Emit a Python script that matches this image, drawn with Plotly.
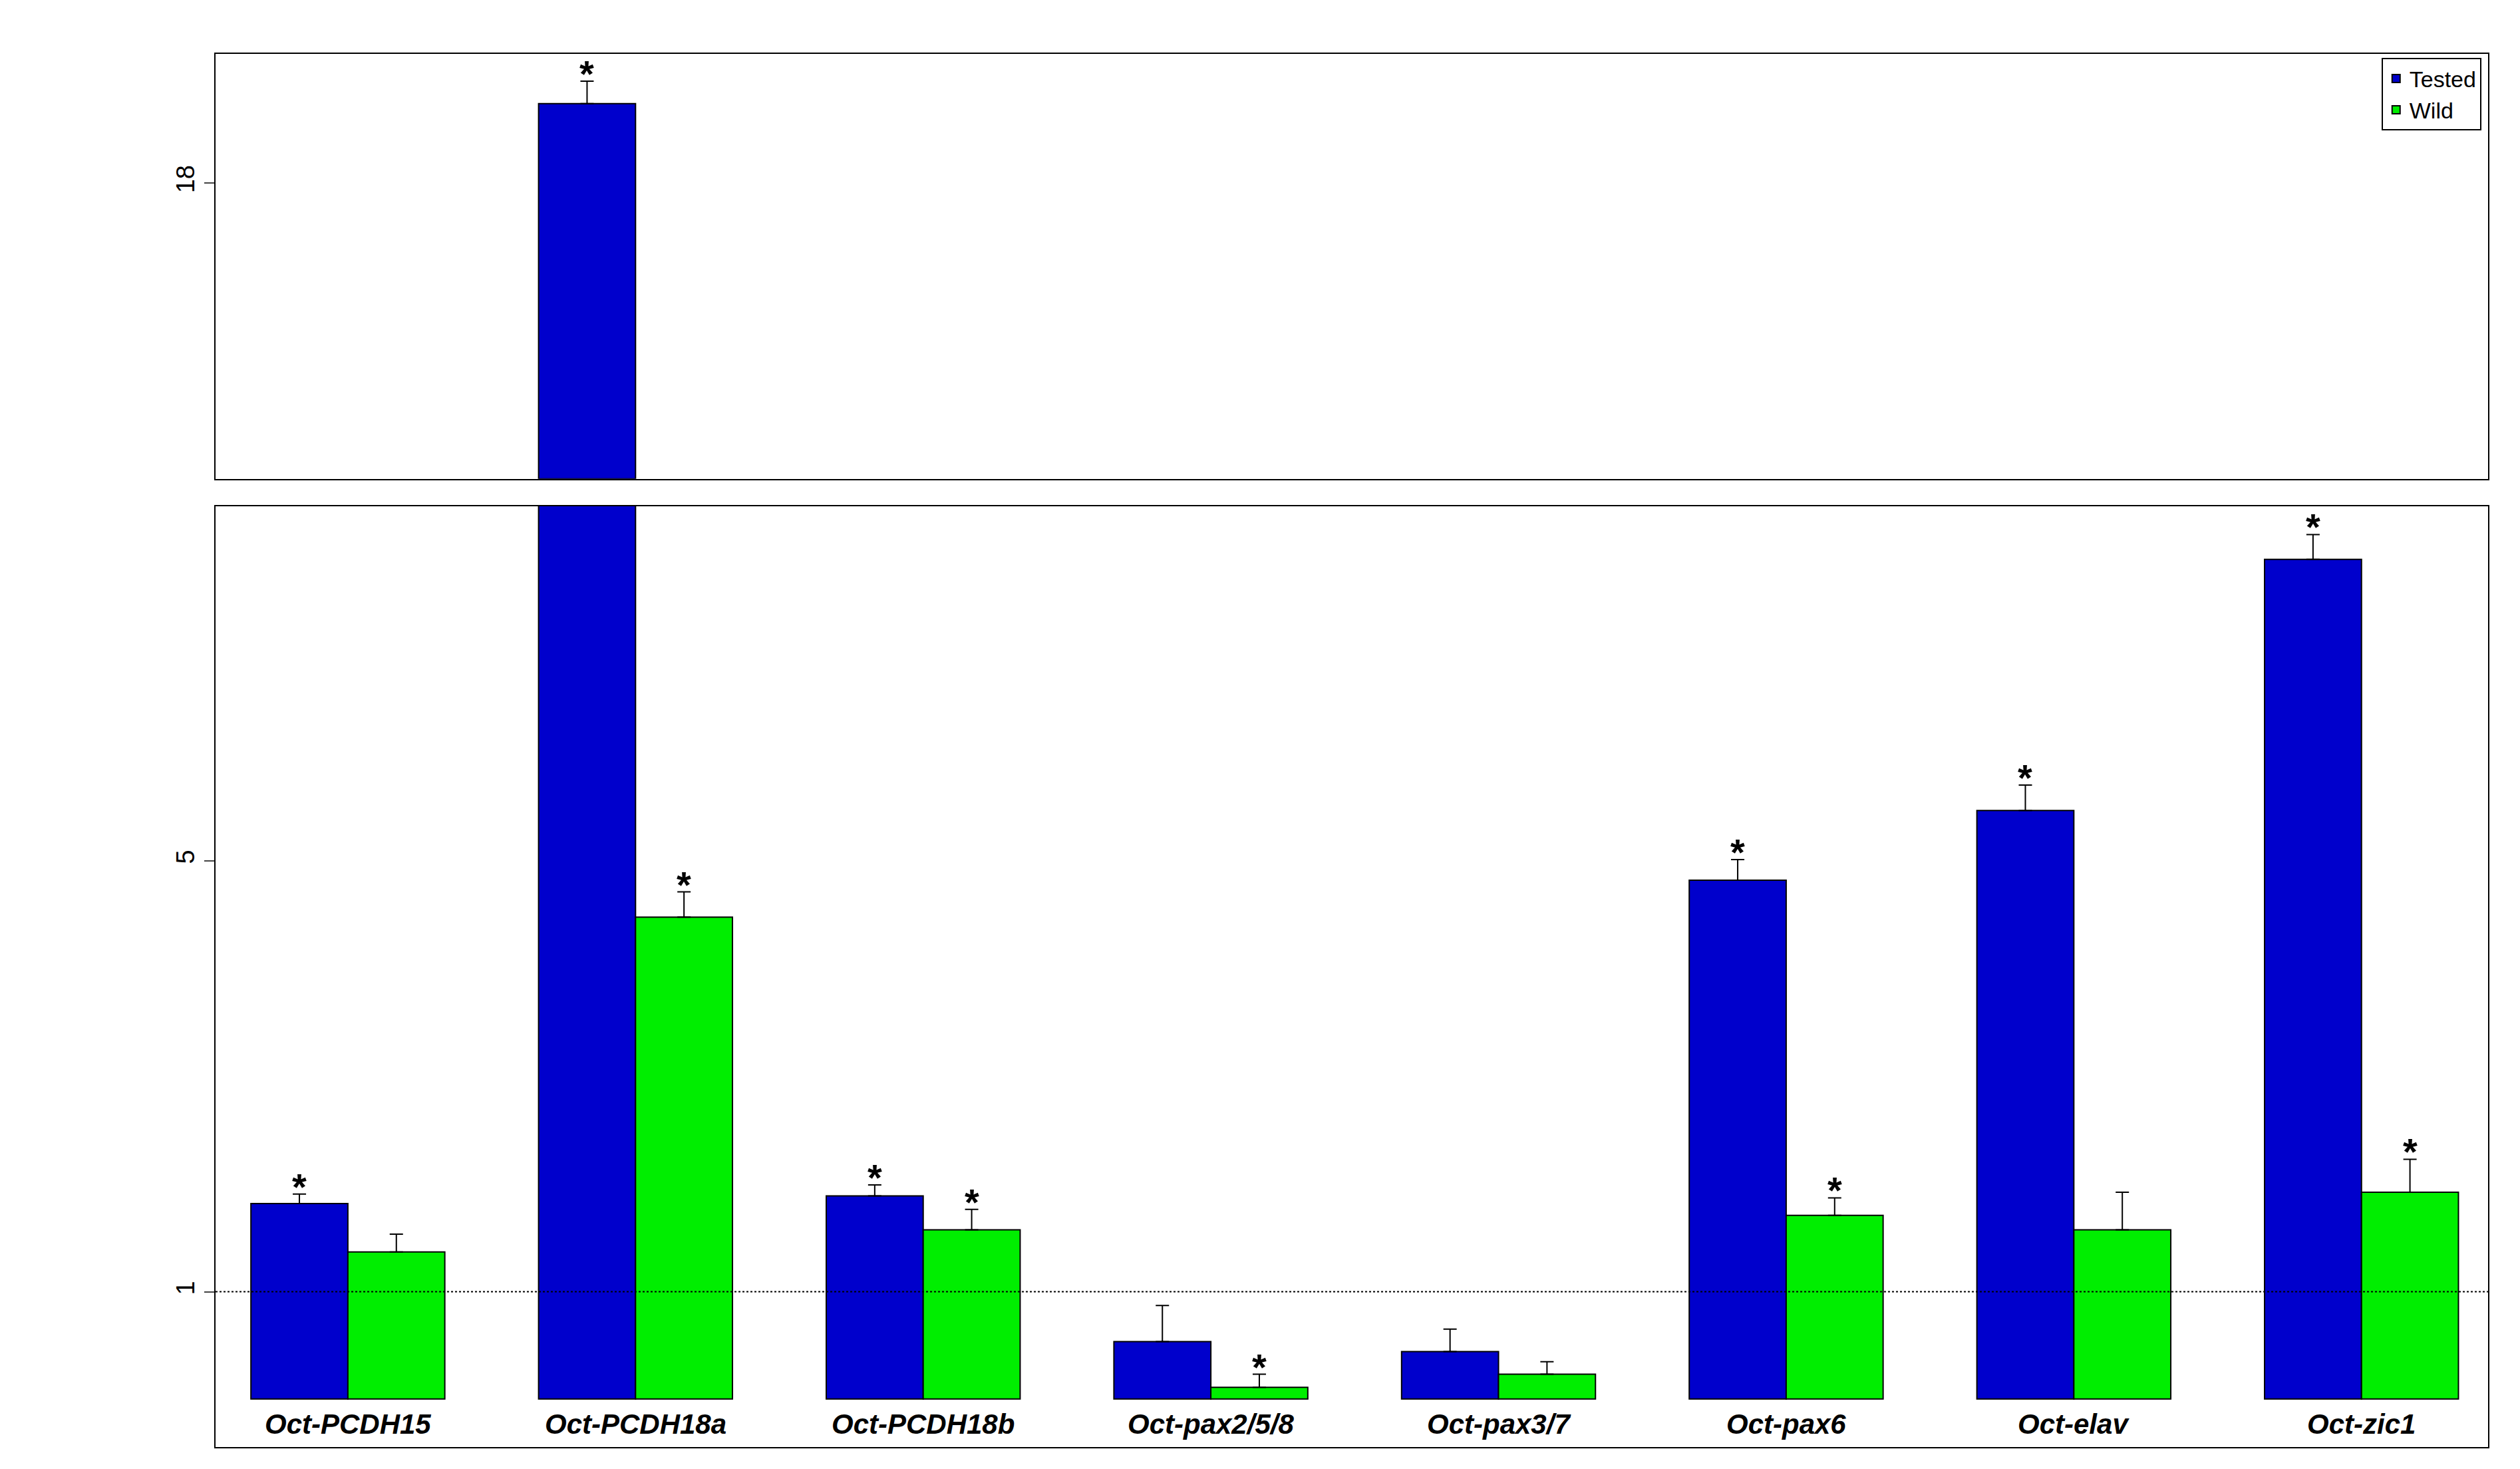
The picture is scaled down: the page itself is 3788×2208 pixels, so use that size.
import plotly.graph_objects as go
import math

genes = ["Oct-PCDH15","Oct-PCDH18a","Oct-PCDH18b","Oct-pax2/5/8","Oct-pax3/7","Oct-pax6","Oct-elav","Oct-zic1"]
tested = [1.39, 24.0, 1.43, 0.83, 0.80, 4.65, 6.03, 15.4]
tested_err = [0.05, 2.3, 0.06, 0.12, 0.07, 0.37, 0.6, 1.5]
wild = [1.16, 4.05, 1.26, 0.70, 0.735, 1.33, 1.26, 1.45]
wild_err = [0.08, 0.4, 0.10, 0.035, 0.035, 0.09, 0.19, 0.19]
# upper (broken) panel, linear scale: only Oct-PCDH18a reaches it
top_tested = [None, 18.67, None, None, None, None, None, None]
top_err = [0, 0.19, 0, 0, 0, 0, 0, 0]
tested_sig = [1,1,1,0,0,1,1,1]
wild_sig = [0,1,1,1,0,1,0,1]

BLUE = "#0000CC"; GREEN = "#00EE00"
base = 0.67
TOPBASE = 15.5
x = list(range(len(genes)))
fig = go.Figure()
errstyle = dict(type="data", symmetric=False, color="black", thickness=2, width=10)
fig.add_bar(x=x, y=[v-base for v in tested], base=base, name="Tested", marker=dict(color=BLUE, line=dict(color="black", width=2)),
            error_y=dict(array=tested_err, arrayminus=[0]*8, **errstyle), offsetgroup="t")
fig.add_bar(x=x, y=[v-base for v in wild], base=base, name="Wild", marker=dict(color=GREEN, line=dict(color="black", width=2)),
            error_y=dict(array=wild_err, arrayminus=[0]*8, **errstyle), offsetgroup="w")
fig.add_bar(x=x, y=[None if v is None else v-TOPBASE for v in top_tested], base=TOPBASE, marker=dict(color=BLUE, line=dict(color="black", width=2)),
            error_y=dict(array=top_err, arrayminus=[0]*8, **errstyle), xaxis="x2", yaxis="y2", showlegend=False, offsetgroup="t")
fig.add_bar(x=x, y=[None]*8, marker=dict(color=GREEN), xaxis="x2", yaxis="y2", showlegend=False, offsetgroup="w")

lo, hi = math.log10(0.56), math.log10(18.8)
xr = [-0.46, 7.44]
ax = dict(showline=True, mirror=True, linecolor="black", linewidth=2, showgrid=False, zeroline=False)
fig.update_layout(
    width=3788, height=2208, plot_bgcolor="white", paper_bgcolor="white",
    margin=dict(l=316, r=56, t=73, b=41), barmode="group", bargap=0.326, bargroupgap=0,
    font=dict(family="Liberation Sans", size=38, color="black"),
    xaxis=dict(domain=[0,1], range=xr, showticklabels=False, ticks="", anchor="y", **ax),
    xaxis2=dict(domain=[0,1], range=xr, showticklabels=False, ticks="", anchor="y2", **ax),
    yaxis=dict(domain=[0, 0.6755], type="log", range=[lo, hi], tickvals=[1, 5], ticktext=["1","5"], ticks="outside", ticklen=15, tickwidth=2, tickangle=-90, **ax),
    yaxis2=dict(domain=[0.695, 1], range=[TOPBASE, 19.09], tickvals=[18], ticktext=["18"], ticks="outside", ticklen=15, tickwidth=2, tickangle=-90, **ax),
    legend=dict(x=0.997, y=0.997, xanchor="right", yanchor="top", bordercolor="black", borderwidth=2, font=dict(size=34), tracegroupgap=0, itemwidth=30),
)
fig.add_shape(type="line", xref="x domain", yref="y", x0=0, x1=1, y0=1, y1=1, line=dict(color="black", width=2, dash="dot"))
ann = []
for i, g in enumerate(genes):
    ann.append(dict(x=i, y=math.log10(0.61), xref="x", yref="y", text=f"<b><i>{g}</i></b>", showarrow=False, font=dict(size=42)))
    for vals, errs, sig, off in ((tested, tested_err, tested_sig, -0.1685), (wild, wild_err, wild_sig, 0.1685)):
        if sig[i]:
            top = vals[i] + errs[i]
            if top > 18.8:
                ann.append(dict(x=i+off, y=top_tested[i]+top_err[i], xref="x2", yref="y2", text="<b>*</b>", showarrow=False, yanchor="bottom", yshift=-22, font=dict(size=56)))
            else:
                ann.append(dict(x=i+off, y=math.log10(top), xref="x", yref="y", text="<b>*</b>", showarrow=False, yanchor="bottom", yshift=-22, font=dict(size=56)))
ann.append(dict(x=-0.115, y=0.5, xref="paper", yref="paper", text="mRNA  fold", textangle=-90, showarrow=False, font=dict(size=42)))
fig.update_layout(annotations=ann)
fig.write_html("out.html")
